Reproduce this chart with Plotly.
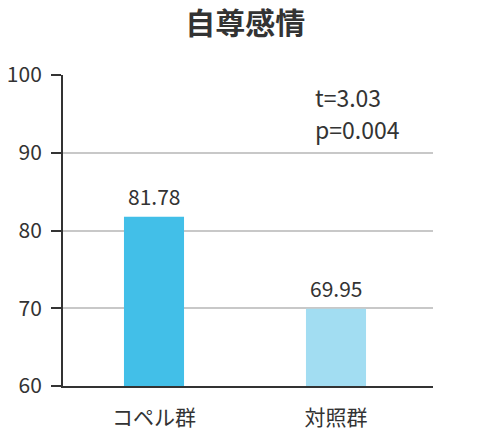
import plotly.graph_objects as go

groups = ["コペル群", "対照群"]
scores = [81.78, 69.95]
bar_colors = ["#42BFE8", "#A2DDF2"]
y_ticks = [60, 70, 80, 90, 100]
stats_lines = ["t=3.03", "p=0.004"]

font_family = "Noto Sans CJK JP"
text_color = "#333333"

fig = go.Figure(
    go.Bar(
        x=groups,
        y=scores,
        marker=dict(color=bar_colors, line=dict(width=0)),
        width=0.33,
        hoverinfo="x+y",
    )
)

# value labels above the bars
for g, v in zip(groups, scores):
    fig.add_annotation(
        x=g, y=v, text=f"{v:.2f}",
        yanchor="bottom", yshift=4, showarrow=False,
        font=dict(size=21, color=text_color, family=font_family),
    )

fig.update_layout(
    width=490,
    height=430,
    margin=dict(l=55, r=65, t=67, b=52),
    paper_bgcolor="white",
    plot_bgcolor="white",
    showlegend=False,
    font=dict(family=font_family, color=text_color, size=20),
    title=dict(
        text="<b>自尊感情</b>",
        x=0.484,
        xanchor="center",
        y=1.0,
        yanchor="top",
        pad=dict(t=5),
        font=dict(size=30, color=text_color, family=font_family),
    ),
)

fig.update_yaxes(
    range=[60, 100],
    tickvals=y_ticks,
    showgrid=True,
    gridcolor="#C8C8C8",
    gridwidth=1.5,
    showline=True,
    linecolor="#333333",
    linewidth=2,
    ticks="outside",
    ticklen=10,
    tickwidth=2,
    tickcolor="#333333",
    ticklabelstandoff=5,
    tickfont=dict(size=21),
    zeroline=False,
    automargin=False,
)

fig.update_xaxes(
    range=[-0.5, 1.533],
    showline=True,
    linecolor="#333333",
    linewidth=2,
    ticks="outside",
    ticklen=12,
    tickcolor="rgba(0,0,0,0)",
    tickfont=dict(size=21),
    showgrid=False,
    automargin=False,
)

# t-test result, one annotation per line
for i, line in enumerate(stats_lines):
    fig.add_annotation(
        text=line,
        xref="paper",
        yref="paper",
        x=0.679,
        y=0.93 - i * 0.103,
        xanchor="left",
        yanchor="middle",
        align="left",
        showarrow=False,
        borderpad=0,
        font=dict(size=23, color=text_color, family=font_family),
    )

fig.write_html("out.html")
